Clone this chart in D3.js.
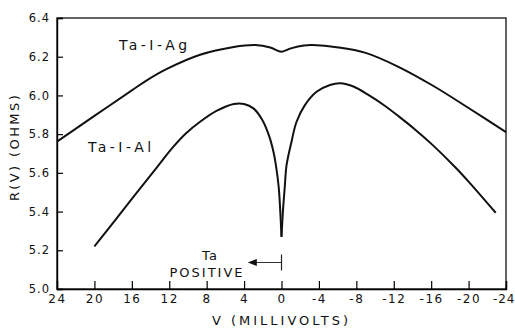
<!DOCTYPE html>
<html>
<head>
<meta charset="utf-8">
<script src="https://cdn.jsdelivr.net/npm/d3@7"></script>
<style>
  body { margin: 0; background: #fff; }
  svg text { font-family: "DejaVu Sans", sans-serif; fill: #111; }
</style>
</head>
<body>
<div id="chart"></div>
<script>
// bias voltage (mV) and resistance (ohms)
const agVolts = [24, 20, 16, 14.4, 12.2, 8.7, 5.1, 2.8, 1.2, 0, -1.0, -2.4, -3.3, -6.1, -9.0, -12.5, -16.2, -20, -24];
const agOhms  = [5.761, 5.894, 6.026, 6.078, 6.138, 6.21, 6.25, 6.26, 6.248, 6.226, 6.243, 6.258, 6.26, 6.248, 6.22, 6.148, 6.05, 5.935, 5.81];

// Ta-I-Al: left branch down to the cusp at 0 mV, then right branch
const alVolts = [20, 16, 13.3, 11.6, 10.2, 8.7, 6.9, 5.1, 4.0, 3.0, 2.05, 1.3, 0.82, 0.6, 0.3, 0.13, 0,
                 -0.15, -0.35, -0.54, -1.07, -1.61, -2.5, -3.75, -5.18, -6.25, -7.75, -9.2, -11, -12.5, -14.3, -16.2, -18.6, -20, -22.9];
const alOhms  = [5.22, 5.465, 5.63, 5.733, 5.805, 5.864, 5.921, 5.956, 5.956, 5.933, 5.873, 5.787, 5.70, 5.64, 5.527, 5.40, 5.27,
                 5.40, 5.527, 5.64, 5.761, 5.864, 5.95, 6.019, 6.054, 6.063, 6.045, 6.005, 5.948, 5.893, 5.823, 5.742, 5.628, 5.555, 5.394];

const xTicks = [24, 20, 16, 12, 8, 4, 0, -4, -8, -12, -16, -20, -24];
const yTicks = [5.0, 5.2, 5.4, 5.6, 5.8, 6.0, 6.2, 6.4];

const W = 515, H = 329;
const margin = { top: 18, right: 9, bottom: 40, left: 57 };

const svg = d3.select('#chart').append('svg')
  .attr('width', W)
  .attr('height', H);

const x = d3.scaleLinear().domain([24, -24]).range([margin.left, W - margin.right]);
const y = d3.scaleLinear().domain([5.0, 6.4]).range([H - margin.bottom, margin.top]);

// frame
svg.append('rect')
  .attr('x', x(24)).attr('y', y(6.4))
  .attr('width', x(-24) - x(24)).attr('height', y(5.0) - y(6.4))
  .attr('fill', 'none').attr('stroke', '#222').attr('stroke-width', 1.4);

// axes with inward ticks
const xAxis = svg.append('g')
  .attr('transform', `translate(0,${y(5.0)})`)
  .call(d3.axisBottom(x).tickValues(xTicks).tickSize(-8).tickPadding(5).tickFormat(d => String(d)));
xAxis.select('.domain').attr('stroke-width', 1.4);
xAxis.selectAll('line').attr('stroke-width', 1.2);
xAxis.selectAll('text').style('font-size', '12px').style('letter-spacing', '1.5px');
// last label sits flush with the right edge, as in the original
xAxis.selectAll('.tick').filter(d => d === -24).select('text')
  .attr('text-anchor', 'end').attr('x', 9).style('letter-spacing', '1px');

const yAxis = svg.append('g')
  .attr('transform', `translate(${x(24)},0)`)
  .call(d3.axisLeft(y).tickValues(yTicks).tickSize(-6).tickPadding(7).tickFormat(d3.format('.1f')));
yAxis.select('.domain').attr('stroke-width', 1.4);
yAxis.selectAll('line').attr('stroke-width', 1.2);
yAxis.selectAll('text').style('font-size', '11.5px').style('letter-spacing', '1px');

// curves
const line = d3.line()
  .x(d => x(d[0]))
  .y(d => y(d[1]))
  .curve(d3.curveCatmullRom.alpha(0.5));

const agData = agVolts.map((v, i) => [v, agOhms[i]]);
const alData = alVolts.map((v, i) => [v, alOhms[i]]);
const tip = alVolts.indexOf(0);

[agData, alData.slice(0, tip + 1), alData.slice(tip)].forEach(seg => {
  svg.append('path')
    .datum(seg)
    .attr('d', line)
    .attr('fill', 'none')
    .attr('stroke', '#111')
    .attr('stroke-width', 2)
    .attr('stroke-linejoin', 'round');
});

// curve labels
svg.append('text')
  .attr('x', 119).attr('y', 50)
  .style('font-size', '14px').style('letter-spacing', '3.5px')
  .text('Ta-I-Ag');
svg.append('text')
  .attr('x', 88).attr('y', 152)
  .style('font-size', '14px').style('letter-spacing', '3.5px')
  .text('Ta-I-Al');

// "Ta POSITIVE" annotation with arrow
const arrowY = 262.5;
svg.append('line')
  .attr('x1', x(0)).attr('x2', x(0))
  .attr('y1', arrowY - 8).attr('y2', arrowY + 8)
  .attr('stroke', '#222').attr('stroke-width', 1.2);
svg.append('line')
  .attr('x1', x(0)).attr('x2', x(3.2))
  .attr('y1', arrowY).attr('y2', arrowY)
  .attr('stroke', '#333').attr('stroke-width', 1);
svg.append('path')
  .attr('d', `M${x(3.6)},${arrowY} l9,-3.5 l0,7 z`)
  .attr('fill', '#111');

svg.append('text')
  .attr('x', 210).attr('y', 260)
  .attr('text-anchor', 'middle')
  .style('font-size', '13px').style('letter-spacing', '1px')
  .text('Ta');
svg.append('text')
  .attr('x', 207).attr('y', 277)
  .attr('text-anchor', 'middle')
  .style('font-size', '13px').style('letter-spacing', '2px')
  .text('POSITIVE');

// axis titles
svg.append('text')
  .attr('x', (x(24) + x(-24)) / 2).attr('y', 325)
  .attr('text-anchor', 'middle')
  .style('font-size', '13px').style('letter-spacing', '3px')
  .text('V (MILLIVOLTS)');
svg.append('text')
  .attr('transform', 'translate(19,147) rotate(-90)')
  .attr('text-anchor', 'middle')
  .style('font-size', '13px').style('letter-spacing', '2.4px')
  .text('R(V) (OHMS)');
</script>
</body>
</html>
